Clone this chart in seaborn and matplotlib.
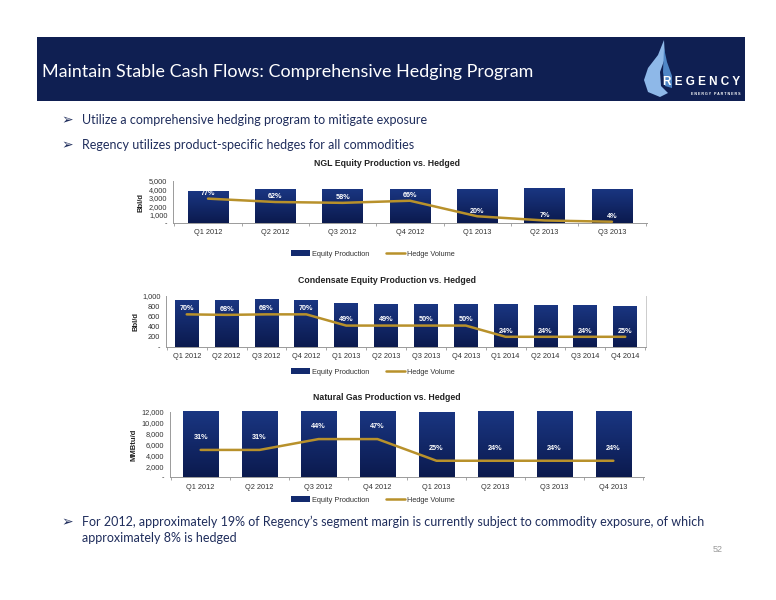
import numpy as np
import pandas as pd
import matplotlib
matplotlib.use("Agg")
import matplotlib.pyplot as plt
from matplotlib.patches import Rectangle, Patch, Polygon
from matplotlib.lines import Line2D
from matplotlib.ticker import FuncFormatter, FixedLocator
from matplotlib.colors import LinearSegmentedColormap
import seaborn as sns

# ---------------- data ----------------
ngl_quarters = ["Q1 2012", "Q2 2012", "Q3 2012", "Q4 2012", "Q1 2013", "Q2 2013", "Q3 2013"]
ngl_production = [3800, 4000, 4050, 4000, 4050, 4150, 4050]
ngl_hedge = [2900, 2500, 2400, 2650, 800, 300, 150]
ngl_pct = ["77%", "62%", "58%", "66%", "20%", "7%", "4%"]

cond_quarters = ["Q1 2012", "Q2 2012", "Q3 2012", "Q4 2012", "Q1 2013", "Q2 2013",
                 "Q3 2013", "Q4 2013", "Q1 2014", "Q2 2014", "Q3 2014", "Q4 2014"]
cond_production = [920, 930, 950, 920, 860, 850, 840, 840, 840, 830, 820, 810]
cond_hedge = [640, 630, 640, 640, 420, 420, 420, 420, 200, 200, 200, 200]
cond_pct = ["70%", "68%", "68%", "70%", "49%", "49%", "50%", "50%", "24%", "24%", "24%", "25%"]

gas_quarters = ["Q1 2012", "Q2 2012", "Q3 2012", "Q4 2012", "Q1 2013", "Q2 2013", "Q3 2013", "Q4 2013"]
gas_production = [16100, 16100, 15900, 14900, 12000, 12500, 12500, 12500]
gas_hedge = [5000, 5000, 7000, 7000, 3000, 3000, 3000, 3000]
gas_pct = ["31%", "31%", "44%", "47%", "25%", "24%", "24%", "24%"]

title_text = "Maintain Stable Cash Flows: Comprehensive Hedging Program"
bullets_top = ["Utilize a comprehensive hedging program to mitigate exposure",
               "Regency utilizes product-specific hedges for all commodities"]
bullet_bottom = ["For 2012, approximately 19% of Regency\u2019s segment margin is currently subject to commodity exposure, of which",
                 "approximately 8% is hedged"]

# ---------------- style ----------------
sns.set_theme(style="white")
plt.rcParams["font.family"] = ["Liberation Sans", "DejaVu Sans"]

NAVY = "#132A6E"
GOLD = "#B8912B"
TXT = "#333333"
BUL = "#1F2D5C"
bar_cmap = LinearSegmentedColormap.from_list("bar", ["#0B1A4E", "#1A3682"])

W, H = 776, 600
fig = plt.figure(figsize=(W / 100, H / 100), dpi=100)
fig.patch.set_facecolor("white")


def fx(px):
    return px / W


def fy(py):
    return 1 - py / H


# header band
fig.patches.append(Rectangle((fx(37), fy(101)), fx(745) - fx(37), fy(37) - fy(101),
                             transform=fig.transFigure, facecolor="#0F1F52", edgecolor="none", zorder=0))
fig.text(fx(42), fy(72), title_text, color="white", fontsize=12.9,
         family=["Lato", "DejaVu Sans"], va="center", ha="left")
# logo
flame = Polygon([[fx(664), fy(40)], [fx(658), fy(55)], [fx(648), fy(68)], [fx(644), fy(80)],
                 [fx(648), fy(92)], [fx(660), fy(97)], [fx(668), fy(93)], [fx(661), fy(86)],
                 [fx(660), fy(72)], [fx(665), fy(58)]],
                closed=True, transform=fig.transFigure, facecolor="#8EB8E8", edgecolor="none")
fig.patches.append(flame)
flame2 = Polygon([[fx(664), fy(48)], [fx(667), fy(62)], [fx(672), fy(76)], [fx(672), fy(88)],
                  [fx(665), fy(86)], [fx(663), fy(72)]],
                 closed=True, transform=fig.transFigure, facecolor="#4F86C6", edgecolor="none")
fig.patches.append(flame2)
fig.text(fx(702), fy(82), "R E G E N C Y", color="white", fontsize=8.5, fontweight="bold",
         ha="center", va="center")
fig.text(fx(716), fy(94), "E N E R G Y   P A R T N E R S", color="white", fontsize=2.6,
         fontweight="bold", ha="center", va="center")

# bullets
BFS = 9.0
for i, t in enumerate(bullets_top):
    y = 120 + i * 25
    fig.text(fx(61), fy(y), "\u27a2", color=BUL, fontsize=10, family=["DejaVu Sans"], va="center")
    fig.text(fx(82), fy(y), t, color=BUL, fontsize=BFS, family=["Lato", "DejaVu Sans"], va="center")

fig.text(fx(61), fy(522), "\u27a2", color=BUL, fontsize=10, family=["DejaVu Sans"], va="center")
fig.text(fx(82), fy(522), bullet_bottom[0], color=BUL, fontsize=BFS, family=["Lato", "DejaVu Sans"], va="center")
fig.text(fx(82), fy(538), bullet_bottom[1], color=BUL, fontsize=BFS, family=["Lato", "DejaVu Sans"], va="center")
fig.text(fx(718), fy(549), "52", color="#999999", fontsize=6.5, va="center", ha="center")


def fmt(v, pos):
    return "-" if v == 0 else f"{int(v):,}"


def draw_chart(rect, quarters, prod, hedge, pct, ymax, ystep, ylabel, title, title_y,
               ylabel_x, xtick_pad, legend_y, label_off, right_spine=False):
    ax = fig.add_axes([fx(rect[0]), fy(rect[3]), fx(rect[1]) - fx(rect[0]), fy(rect[2]) - fy(rect[3])])
    df = pd.DataFrame({"q": quarters, "prod": prod})
    sns.barplot(data=df, x="q", y="prod", ax=ax, color=NAVY, saturation=1, width=0.6,
                edgecolor="none", zorder=2)
    n = len(quarters)
    ax.set_xlim(-0.52, n - 0.48)
    ax.set_ylim(0, ymax)
    # vertical gradient inside each bar
    grad = np.linspace(0, 1, 128).reshape(-1, 1)
    for p in list(ax.patches):
        x0, w = p.get_x(), p.get_width()
        h = p.get_height()
        im = ax.imshow(grad, cmap=bar_cmap, origin="lower", aspect="auto",
                       extent=(x0, x0 + w, 0, min(h, ymax)), zorder=2.5, interpolation="bicubic")
        im.set_clip_path(p)
    ax.set_xlim(-0.52, n - 0.48)
    ax.set_ylim(0, ymax)
    sns.lineplot(x=np.arange(n), y=hedge, ax=ax, color=GOLD, linewidth=1.8, zorder=3)
    for i, (h, p) in enumerate(zip(hedge, pct)):
        ax.text(i, h + label_off, p, color="white", fontsize=5.2, fontweight="bold",
                ha="center", va="center", zorder=4)
    ax.yaxis.set_major_locator(FixedLocator(np.arange(0, ymax + 1, ystep)))
    ax.yaxis.set_major_formatter(FuncFormatter(fmt))
    ax.set_xlabel("")
    ax.set_ylabel("")
    ax.set_xticks(np.arange(n))
    ax.set_xticklabels(quarters)
    ax.set_xticks(np.arange(n + 1) - 0.5, minor=True)
    ax.tick_params(axis="x", which="major", length=0, labelsize=5.3, colors=TXT, pad=xtick_pad)
    ax.tick_params(axis="x", which="minor", length=2, color="#999999", width=0.6, direction="out")
    ax.tick_params(axis="y", which="major", length=2, color="#999999", width=0.6, labelsize=5.3,
                   colors=TXT, pad=2)
    ax.tick_params(axis="x", which="both", bottom=True)
    for s in ["top", "right"]:
        ax.spines[s].set_visible(False)
    for s in ["left", "bottom"]:
        ax.spines[s].set_color("#9A9A9A")
        ax.spines[s].set_linewidth(0.7)
    if right_spine:
        ax.spines["right"].set_visible(True)
        ax.spines["right"].set_color("#CCCCCC")
        ax.spines["right"].set_linewidth(0.7)
    ax.set_facecolor("none")
    fig.text(fx(387), fy(title_y), title, fontsize=6.3, fontweight="bold", color="#222222",
             ha="center", va="center")
    fig.text(fx(ylabel_x), fy((rect[2] + rect[3]) / 2), ylabel, fontsize=5.5, fontweight="bold",
             color="#222222", rotation=90, ha="center", va="center")
    handles = [Patch(facecolor=NAVY, edgecolor="none"),
               Line2D([0], [0], color=GOLD, linewidth=1.8)]
    fig.legend(handles, ["Equity Production", "Hedge Volume"], loc="center",
               bbox_to_anchor=(fx(373), fy(legend_y)), ncol=2, frameon=False, fontsize=5.3,
               handlelength=2.6, handleheight=0.7, columnspacing=2.2, handletextpad=0.3,
               labelcolor=TXT)
    return ax


# rect = (left, right, top, bottom) in pixels
draw_chart((173, 647, 181, 223), ngl_quarters, ngl_production, ngl_hedge, ngl_pct,
           5000, 1000, "Bbl/d", "NGL Equity Production vs. Hedged", 163, 141, 4, 254, 600)
draw_chart((166, 646, 296, 347), cond_quarters, cond_production, cond_hedge, cond_pct,
           1000, 200, "Bbl/d", "Condensate Equity Production vs. Hedged", 281, 136, 4, 372, 110,
           right_spine=True)
draw_chart((170, 644, 412, 477), gas_quarters, gas_production, gas_hedge, gas_pct,
           12000, 2000, "MMBtu/d", "Natural Gas Production vs. Hedged", 397, 134, 5, 500, 2300)

fig.savefig("out.png", dpi=100, facecolor="white")
